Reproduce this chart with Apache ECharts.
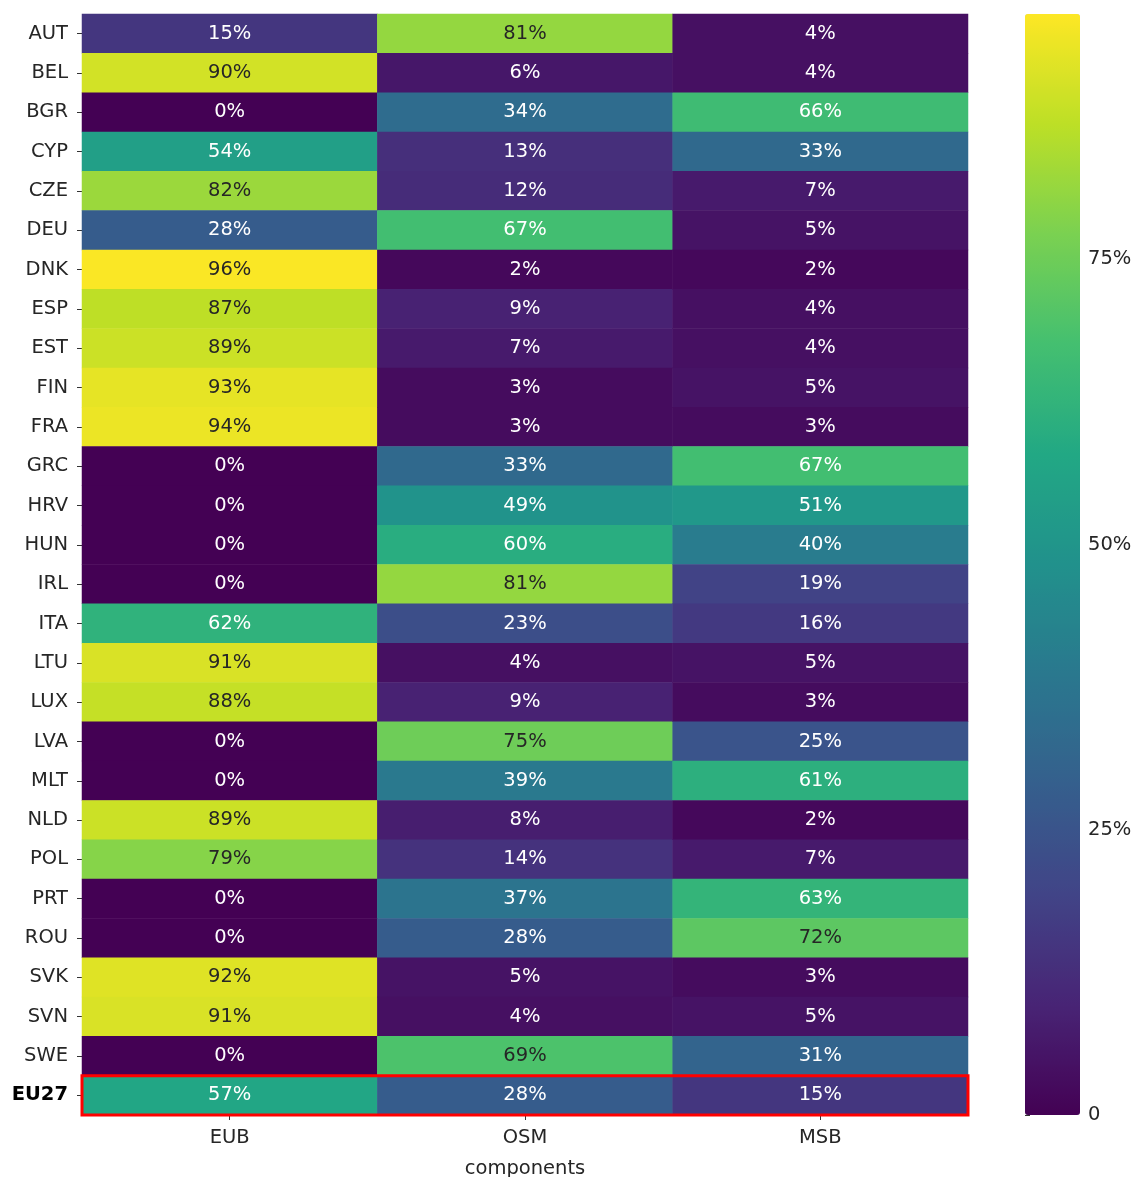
<!DOCTYPE html>
<html>
<head>
<meta charset="utf-8">
<script src="https://cdn.jsdelivr.net/npm/echarts@6/dist/echarts.min.js"></script>
<style>
  html, body { margin: 0; padding: 0; background: #fff; }
  #chart { width: 1141px; height: 1177px; }
</style>
</head>
<body>
<div id="chart"></div>
<script>
  // columns and rows of the heatmap
  const components = ['EUB', 'OSM', 'MSB'];
  const countries = ['AUT', 'BEL', 'BGR', 'CYP', 'CZE', 'DEU', 'DNK', 'ESP', 'EST', 'FIN',
    'FRA', 'GRC', 'HRV', 'HUN', 'IRL', 'ITA', 'LTU', 'LUX', 'LVA', 'MLT',
    'NLD', 'POL', 'PRT', 'ROU', 'SVK', 'SVN', 'SWE', 'EU27'];

  // shares in % per component (same order as countries)
  const eub = [15, 90, 0, 54, 82, 28, 96, 87, 89, 93, 94, 0, 0, 0, 0, 62, 91, 88, 0, 0, 89, 79, 0, 0, 92, 91, 0, 57];
  const osm = [81, 6, 34, 13, 12, 67, 2, 9, 7, 3, 3, 33, 49, 60, 81, 23, 4, 9, 75, 39, 8, 14, 37, 28, 5, 4, 69, 28];
  const msb = [4, 4, 66, 33, 7, 5, 2, 4, 4, 5, 3, 67, 51, 40, 19, 16, 5, 3, 25, 61, 2, 7, 63, 72, 3, 5, 31, 15];

  // colour bar ticks
  const cbarTicks = [0, 25, 50, 75];
  const cbarMax = 96.5;

  const viridis = ['#440154', '#482475', '#414487', '#355f8d', '#2a788e', '#21918c',
    '#22a884', '#44bf70', '#7ad151', '#bddf26', '#fde725'];

  const columns = [eub, osm, msb];
  let cells = [];
  for (let c = 0; c < columns.length; c++) {
    for (let r = 0; r < countries.length; r++) {
      let v = columns[c][r];
      cells.push({
        value: [c, r, v],
        label: { color: v >= 68 ? '#262626' : '#ffffff' }
      });
    }
  }

  let chart = echarts.init(document.getElementById('chart'));
  let font = 'DejaVu Sans';
  let fs = 19.5;
  let option = {
    animation: false,
    backgroundColor: '#ffffff',
    textStyle: { fontFamily: font },
    grid: [
      { left: 82, right: 173, top: 14, bottom: 62, outerBoundsMode: 'none' },
      { left: 1025, width: 55, top: 14, bottom: 62, outerBoundsMode: 'none' }
    ],
    xAxis: [
      {
        type: 'category',
        data: components,
        gridIndex: 0,
        axisLine: { show: false },
        axisTick: { show: true, length: 5, alignWithLabel: true, lineStyle: { color: '#333' } },
        axisLabel: { fontSize: fs, color: '#262626', margin: 13, fontFamily: font },
        splitLine: { show: false },
        name: 'components',
        nameLocation: 'middle',
        nameGap: 44,
        nameTextStyle: { fontSize: fs, color: '#262626', fontFamily: font }
      },
      { type: 'value', gridIndex: 1, show: false, min: 0, max: 1 }
    ],
    yAxis: [
      {
        type: 'category',
        data: countries,
        inverse: true,
        gridIndex: 0,
        axisLine: { show: false },
        axisTick: { show: true, length: 5, alignWithLabel: true, lineStyle: { color: '#333' } },
        axisLabel: {
          fontSize: fs, color: '#262626', margin: 14, fontFamily: font,
          formatter: function (v) { return v === 'EU27' ? '{b|' + v + '}' : v; },
          rich: { b: { fontWeight: 'bold', fontSize: fs, color: '#000', fontFamily: font } }
        },
        splitLine: { show: false }
      },
      {
        type: 'value',
        gridIndex: 1,
        position: 'right',
        min: 0,
        max: cbarMax,
        interval: 25,
        axisLine: { show: false },
        axisTick: { show: true, length: 5, lineStyle: { color: '#333' } },
        axisLabel: {
          fontSize: fs, color: '#262626', margin: 8, fontFamily: font, showMaxLabel: false,
          formatter: function (v) {
            if (cbarTicks.indexOf(v) < 0) return '';
            return v === 0 ? '0' : v + '%';
          }
        },
        splitLine: { show: false }
      }
    ],
    visualMap: {
      type: 'continuous',
      min: 0,
      max: cbarMax,
      seriesIndex: 0,
      calculable: false,
      hoverLink: false,
      orient: 'vertical',
      left: 1025,
      top: 14,
      padding: 0,
      itemWidth: 55,
      itemHeight: 1101,
      text: null,
      showLabel: false,
      inRange: { color: viridis }
    },
    series: [
      {
        type: 'heatmap',
        xAxisIndex: 0,
        yAxisIndex: 0,
        data: cells,
        label: {
          show: true,
          fontSize: fs,
          fontFamily: font,
          formatter: function (p) { return p.value[2] + '%'; }
        },
        emphasis: { disabled: true }
      },
      {
        // red frame around the EU27 row
        type: 'custom',
        xAxisIndex: 0,
        yAxisIndex: 0,
        silent: true,
        z: 10,
        data: [[0, countries.indexOf('EU27')]],
        renderItem: function (params, api) {
          let p = api.coord([api.value(0), api.value(1)]);
          let s = api.size([1, 1]);
          return {
            type: 'rect',
            shape: { x: p[0] - s[0] / 2, y: p[1] - s[1] / 2, width: s[0] * components.length, height: s[1] },
            style: { fill: null, stroke: '#ff0000', lineWidth: 3 }
          };
        }
      }
    ]
  };
  chart.setOption(option);
</script>
</body>
</html>
